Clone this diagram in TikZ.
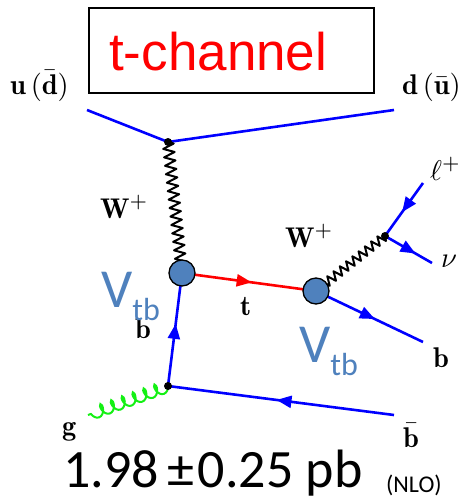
\documentclass[tikz,border=0pt]{standalone}
\usepackage{graphicx}
\usepackage{fontspec}
\newfontfamily\arialf{Liberation Sans}
\newfontfamily\calf{Carlito}
\usetikzlibrary{arrows.meta,decorations.markings,decorations.pathmorphing}
\definecolor{fblue}{RGB}{0,0,255}
\definecolor{vblue}{RGB}{79,129,189}
\definecolor{gluonc}{RGB}{20,240,20}
\newcommand{\flab}[1]{\scalebox{2.85}{\fontsize{10}{12}\selectfont$#1$}}
\begin{document}
\begin{tikzpicture}[x=1pt,y=-1pt,
  fermion/.style={color=fblue, line width=2.6pt},
  topq/.style={color=red, line width=2.6pt},
  arrowat/.style={decoration={markings, mark=at position #1 with {\arrow{Triangle[length=15pt,width=12pt]}}}, postaction={decorate}},
  wboson/.style={draw=black, line width=2pt, line join=round, decorate, decoration={zigzag, segment length=8.5pt, amplitude=5.5pt}},
  wboson2/.style={draw=black, line width=2pt, line join=round, decorate, decoration={zigzag, segment length=8pt, amplitude=4.5pt}},
  gluon/.style={draw=gluonc, line width=2pt, decorate, decoration={coil, aspect=0.6, segment length=11.5pt, amplitude=6pt}},
  blob/.style={circle, draw=black, line width=1.3pt, fill=vblue, minimum size=26pt, inner sep=0pt},
  dot/.style={circle, fill=black, minimum size=8pt, inner sep=0pt},
  lab/.style={anchor=base west, inner sep=0pt},
  vlab/.style={anchor=base west, inner sep=0pt, text=vblue, font=\calf\fontsize{55}{55}\selectfont},
]
\useasboundingbox (0,0) rectangle (471,498);
% box and title
\node[draw, line width=1.8pt, minimum width=285pt, minimum height=85pt, inner sep=0pt] (box) at (231.5,50.5) {};
\node[anchor=base west, inner sep=0pt, text=red, font=\arialf\fontsize{53}{53}\selectfont] (title) at (109,70) {t-channel};
% coordinates
\coordinate (uend) at (87,110);
\coordinate (dend) at (394,110);
\coordinate (lend) at (423,183);
\coordinate (nuend) at (432,263);
\coordinate (bend) at (423,342);
\coordinate (bbarend) at (394,415);
\coordinate (gend) at (88,415);
\coordinate (v1) at (168,142);
\coordinate (v2) at (168,386);
\coordinate (v3) at (385,236);
\coordinate (c1) at (182,273);
\coordinate (c2) at (316,291);
% lines
\draw[fermion] (uend) -- (v1);
\draw[fermion] (v1) -- (dend);
\draw[wboson] (v1) -- (c1);
\draw[topq, arrowat=0.52] (c1) -- (c2);
\draw[wboson2] (c2) -- (v3);
\draw[fermion, arrowat=0.55] (lend) -- (v3);
\draw[fermion, arrowat=0.65] (v3) -- (nuend);
\draw[fermion, arrowat=0.55] (c2) -- (bend);
\draw[fermion, arrowat=0.55] (v2) -- (c1);
\draw[fermion, arrowat=0.52] (bbarend) -- (v2);
\draw[gluon] (v2) -- (gend);
% vertices
\node[blob] (blob1) at (c1) {};
\node[blob] (blob2) at (c2) {};
\node[dot] (dot1) at (v1) {};
\node[dot] (dot2) at (v2) {};
\node[dot] (dot3) at (v3) {};
% labels
\node[lab] (ulab) at (10,94) {\flab{\mathbf{u}\,(\bar{\mathbf{d}})}};
\node[lab] (dlab) at (402,94) {\flab{\mathbf{d}\,(\bar{\mathbf{u}})}};
\node[lab] (w1lab) at (100,218) {\flab{\mathbf{W}^+}};
\node[lab] (w2lab) at (285,247) {\flab{\mathbf{W}^+}};
\node[lab] (tlab) at (240,315) {\flab{\mathbf{t}}};
\node[lab] (blab) at (135,338) {\flab{\mathbf{b}}};
\node[lab] (llab) at (430,180) {\flab{\ell^+}};
\node[lab] (nulab) at (441,267) {\flab{\nu}};
\node[lab] (b2lab) at (433,367) {\flab{\mathbf{b}}};
\node[lab] (bbarlab) at (403,447) {\flab{\bar{\mathbf{b}}}};
\node[lab] (glab) at (62,435) {\flab{\mathbf{g}}};
\node[vlab] (vtb1) at (101,307) {V{\fontsize{32}{32}\selectfont\raisebox{-13pt}{tb}}};
\node[vlab] (vtb2) at (299,362) {V{\fontsize{32}{32}\selectfont\raisebox{-13pt}{tb}}};
% cross section
\node[anchor=base west, inner sep=0pt, font=\calf\fontsize{54}{54}\selectfont] (xs) at (63,487) {1.98\hspace{9pt}±\hspace{3pt}0.25 pb};
\node[anchor=base west, inner sep=0pt, font=\calf\fontsize{24}{24}\selectfont] (nlo) at (386,492) {(NLO)};
\end{tikzpicture}
\end{document}
